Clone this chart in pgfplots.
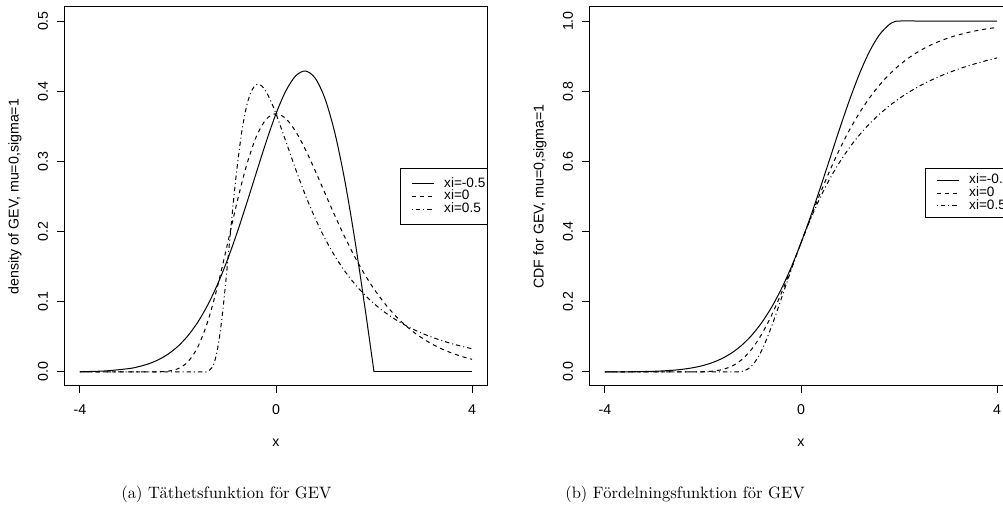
\documentclass[border=0pt]{standalone}
\usepackage{fontspec}
\usepackage{pgfplots}
\pgfplotsset{compat=1.18}
\newfontfamily\rfont{Liberation Sans}
\newcommand\rsize{\rfont\fontsize{7.1}{8.5}\selectfont}
\newcommand\lsize{\rfont\fontsize{6.8}{8}\selectfont}

\pgfplotsset{
  rplot/.style={
    scale only axis, width=211.7pt, height=189.5pt,
    xmin=-4.32, xmax=4.32,
    xtick={-4,0,4}, xticklabels={-4,0,4},
    tick pos=left, tick align=outside, major tick length=3.5pt,
    tick style={black, line width=0.5pt},
    axis line style={black, line width=0.5pt},
    tick label style={font=\rsize, inner sep=0pt},
    xticklabel style={anchor=north},
    yticklabel style={rotate=90, anchor=south},
    xticklabel shift=5.5pt, yticklabel shift=4.5pt,
    label style={font=\rsize, inner sep=0pt},
    xlabel={x},
    xlabel style={at={(axis description cs:0.5,-0.1504)}, anchor=center},
    ylabel style={at={(axis description cs:-0.1164,0.5)}, anchor=center},
    every axis plot/.append style={black, line width=0.5pt},
    legend cell align=left,
    legend image code/.code={\path (-5.5pt,0pt); \draw[##1] (0pt,0pt) -- (11pt,0pt); \path (16pt,0pt);},
  },
  rleg/.style={legend style={at={(1,#1)}, anchor=east, draw=black, line width=0.5pt, fill=white,
    inner xsep=0pt, row sep=0pt, font=\lsize,
    nodes={inner sep=0pt, text width=21.5pt, align=left}}},
  dsh/.style={dash pattern=on 2pt off 2pt},
  ddsh/.style={dash pattern=on 0.5pt off 1.5pt on 2.2pt off 1.5pt},
}

\begin{document}
\begin{tikzpicture}
  % density
  \begin{axis}[rplot, at={(32.15pt,63.5pt)}, anchor=south west,
      ymin=-0.02, ymax=0.52,
      ytick={0,0.1,0.2,0.3,0.4,0.5}, yticklabels={0.0,0.1,0.2,0.3,0.4,0.5},
      ylabel={density of GEV, mu=0,sigma=1},
      rleg=0.5, legend style={inner ysep=4.5pt}]
    \addplot[smooth] coordinates {(-4,0.0004)(-3.5,0.0014)(-3,0.0048)(-2.8,0.0076)(-2.6,0.0116)(-2.4,0.0174)(-2.2,0.0255)(-2,0.0366)(-1.8,0.0514)(-1.6,0.0705)(-1.4,0.0945)(-1.2,0.1237)(-1,0.1581)(-0.8,0.1972)(-0.6,0.2399)(-0.4,0.2843)(-0.2,0.3280)(0,0.3679)(0.2,0.4004)(0.4,0.4218)(0.6,0.4288)(0.8,0.4186)(1,0.3894)(1.2,0.3409)(1.4,0.2742)(1.6,0.1922)(1.8,0.0990)(1.9,0.0499)(2,0)};
    \addlegendentry{xi=-0.5}
    \addplot[dsh, smooth] coordinates {(-4,0)(-3,0)(-2.5,0.0001)(-2.2,0.0011)(-2,0.0046)(-1.8,0.0143)(-1.6,0.0350)(-1.4,0.0703)(-1.2,0.1200)(-1,0.1794)(-0.8,0.2404)(-0.6,0.2946)(-0.4,0.3356)(-0.2,0.3601)(0,0.3679)(0.2,0.3611)(0.4,0.3429)(0.6,0.3170)(0.8,0.2867)(1,0.2546)(1.2,0.2229)(1.4,0.1927)(1.6,0.1650)(1.8,0.1401)(2,0.1182)(2.2,0.0992)(2.4,0.0828)(2.6,0.0690)(2.8,0.0572)(3,0.0474)(3.2,0.0391)(3.4,0.0323)(3.6,0.0266)(3.8,0.0219)(4,0.0180)};
    \addlegendentry{xi=0}
    \addplot[ddsh, smooth] coordinates {(-4,0)(-3,0)(-2,0)(-1.5,0)(-1.4,0.0006)(-1.3,0.0067)(-1.25,0.0155)(-1.2,0.0302)(-1.15,0.0513)(-1.1,0.0786)(-1.05,0.1109)(-1,0.1465)(-0.95,0.1836)(-0.9,0.2205)(-0.85,0.2555)(-0.8,0.2879)(-0.7,0.3415)(-0.6,0.3787)(-0.5,0.4006)(-0.4,0.4094)(-0.3,0.4081)(-0.2,0.3990)(-0.1,0.3851)(0,0.3679)(0.2,0.3288)(0.4,0.2890)(0.6,0.2519)(0.8,0.2188)(1,0.1900)(1.2,0.1652)(1.4,0.1440)(1.6,0.1260)(1.8,0.1105)(2,0.0974)(2.2,0.0861)(2.4,0.0764)(2.6,0.0680)(2.8,0.0608)(3,0.0545)(3.2,0.0491)(3.4,0.0443)(3.6,0.0401)(3.8,0.0364)(4,0.0331)};
    \addlegendentry{xi=0.5}
    \addplot[forget plot] coordinates {(2,0)(4,0)};
  \end{axis}
  % CDF
  \begin{axis}[rplot, at={(294.65pt,63.5pt)}, anchor=south west,
      ymin=-0.04, ymax=1.04,
      ytick={0,0.2,0.4,0.6,0.8,1}, yticklabels={0.0,0.2,0.4,0.6,0.8,1.0},
      ylabel={CDF for GEV, mu=0,sigma=1},
      rleg=0.509, legend style={inner ysep=2.5pt}]
    \addplot[smooth] coordinates {(-4,0.0001)(-3.5,0.0005)(-3,0.0019)(-2.8,0.0032)(-2.6,0.0050)(-2.4,0.0079)(-2.2,0.0122)(-2,0.0183)(-1.8,0.0271)(-1.6,0.0392)(-1.4,0.0556)(-1.2,0.0773)(-1,0.1054)(-0.8,0.1409)(-0.6,0.1845)(-0.4,0.2369)(-0.2,0.2982)(0,0.3679)(0.2,0.4449)(0.4,0.5273)(0.6,0.6126)(0.8,0.6977)(1,0.7788)(1.2,0.8521)(1.4,0.9139)(1.6,0.9608)(1.8,0.9900)(1.9,0.9975)(2,1)(2.5,1)(3,1)(4,1)};
    \addlegendentry{xi=-0.5}
    \addplot[dsh, smooth] coordinates {(-4,0)(-3,0)(-2.5,0)(-2.2,0.0001)(-2,0.0006)(-1.8,0.0024)(-1.6,0.0071)(-1.4,0.0173)(-1.2,0.0362)(-1,0.0660)(-0.8,0.1080)(-0.6,0.1617)(-0.4,0.2250)(-0.2,0.2948)(0,0.3679)(0.2,0.4410)(0.4,0.5116)(0.6,0.5776)(0.8,0.6381)(1,0.6922)(1.2,0.7400)(1.4,0.7815)(1.6,0.8172)(1.8,0.8476)(2,0.8734)(2.2,0.8951)(2.4,0.9133)(2.6,0.9284)(2.8,0.9410)(3,0.9514)(3.2,0.9600)(3.4,0.9672)(3.6,0.9730)(3.8,0.9779)(4,0.9819)};
    \addlegendentry{xi=0}
    \addplot[ddsh, smooth] coordinates {(-4,0)(-3,0)(-2,0)(-1.5,0)(-1.4,0)(-1.3,0.0003)(-1.25,0.0008)(-1.2,0.0019)(-1.15,0.0039)(-1.1,0.0072)(-1.05,0.0119)(-1,0.0183)(-0.95,0.0266)(-0.9,0.0367)(-0.85,0.0486)(-0.8,0.0622)(-0.7,0.0938)(-0.6,0.1299)(-0.5,0.1690)(-0.4,0.2096)(-0.3,0.2506)(-0.2,0.2909)(-0.1,0.3302)(0,0.3679)(0.2,0.4376)(0.4,0.4994)(0.6,0.5534)(0.8,0.6004)(1,0.6412)(1.2,0.6767)(1.4,0.7075)(1.6,0.7344)(1.8,0.7581)(2,0.7788)(2.2,0.7971)(2.4,0.8133)(2.6,0.8278)(2.8,0.8406)(3,0.8521)(3.2,0.8625)(3.4,0.8718)(3.6,0.8802)(3.8,0.8879)(4,0.8948)};
    \addlegendentry{xi=0.5}
  \end{axis}
  \node[anchor=base, scale=0.825] at (113.25pt,7pt) {\fontsize{10}{12}\selectfont (a) Täthetsfunktion för GEV};
  \node[anchor=base, scale=0.825] at (342.5pt,7pt) {\fontsize{10}{12}\selectfont (b) Fördelningsfunktion för GEV};
  \pgfresetboundingbox
  \useasboundingbox (0,0) rectangle (501.5pt,256.5pt);
\end{tikzpicture}
\end{document}
